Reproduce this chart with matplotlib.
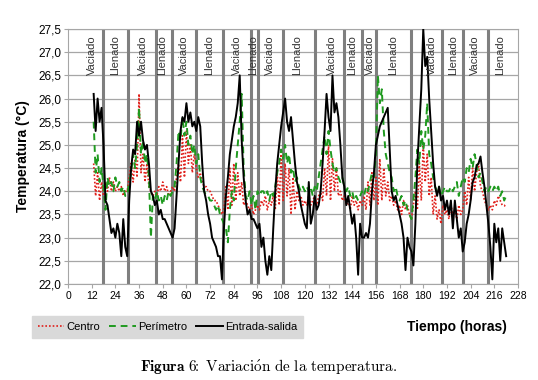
import numpy as np
import matplotlib
matplotlib.use('Agg')
import matplotlib.pyplot as plt

plt.rcParams['font.family'] = ['Liberation Sans', 'DejaVu Sans']
plt.rcParams['mathtext.fontset'] = 'cm'

# time axis (hours)
horas = list(range(13, 223))

# Entrada-salida (black solid)
entrada_salida = [
    26.1, 25.3, 26.0, 25.5, 25.8, 25.0, 23.8,                    # 13-19
    23.7, 23.4, 23.1, 23.2, 23.0, 23.3, 23.1, 22.6, 23.4, 22.8,  # 20-29
    22.6, 23.8, 24.5, 24.9, 24.8, 25.5, 25.2, 25.5, 25.1, 24.9,  # 30-39
    25.0, 24.6, 24.0, 23.9, 23.7, 23.8, 23.5, 23.6, 23.4, 23.4,  # 40-49
    23.3, 23.2, 23.1, 23.0, 23.2, 23.9, 24.6, 25.3, 25.6, 25.5,  # 50-59
    25.9, 25.5, 25.7, 25.4, 25.5, 25.3, 25.6, 25.4, 24.6, 24.0,  # 60-69
    23.8, 23.5, 23.3, 23.0, 22.9, 22.8, 22.6, 22.6, 22.1, 23.2,  # 70-79
    23.9, 24.3, 24.8, 25.1, 25.4, 25.6, 25.9, 26.5, 25.1, 24.3,  # 80-89
    23.8, 23.5, 23.6, 23.4, 23.4, 23.3, 23.2, 23.3, 22.8, 23.0,  # 90-99
    22.5, 22.2, 22.6, 22.3, 23.2, 24.0, 24.6, 25.0, 25.4, 25.7,  # 100-109
    26.0, 25.5, 25.3, 25.6, 25.1, 24.6, 24.2, 24.0, 23.7, 23.5,  # 110-119
    23.3, 23.2, 24.2, 23.3, 23.5, 23.9, 23.6, 23.7, 24.0, 24.6,  # 120-129
    25.3, 26.1, 25.6, 25.3, 26.5, 25.7, 25.9, 25.6, 25.0, 24.3,  # 130-139
    24.1, 23.7, 23.9, 23.6, 23.3, 23.5, 23.0, 22.2, 23.3, 23.0,  # 140-149
    23.0, 23.1, 23.0, 23.3, 24.0, 24.4, 25.0, 25.2, 25.4, 25.5,  # 150-159
    25.6, 25.7, 25.8, 24.9, 24.0, 23.8, 23.9, 23.7, 23.5, 23.3,  # 160-169
    23.0, 22.3, 23.0, 22.8, 22.7, 22.4, 23.3, 24.6, 25.4, 26.2,  # 170-179
    27.5, 26.7, 26.9, 26.0, 25.3, 24.6, 24.1, 23.9, 24.1, 23.8,  # 180-189
    23.9, 23.6, 23.8, 23.5, 23.8, 23.2, 23.8, 23.4, 23.0, 23.2,  # 190-199
    22.7, 22.9, 23.3, 23.5, 23.8, 24.2, 24.3, 24.55, 24.6, 24.75,  # 200-209
    24.4, 24.1, 23.7, 23.3, 22.8, 22.1, 23.3, 22.9, 23.2, 22.5,  # 210-219
    23.2, 22.9, 22.6,                                            # 220-222
]

# Perimetro (green dashed)
perimetro = [
    25.5, 24.4, 24.8, 24.2, 24.5, 24.1, 23.6,
    24.3, 24.1, 24.2, 24.0, 24.3, 24.1, 24.2, 24.0, 24.1, 23.9,
    23.9, 24.2, 24.4, 24.8, 24.5, 25.0, 25.8, 24.8, 25.1, 24.6,
    24.8, 24.3, 23.0, 23.9, 23.8, 24.0, 23.8, 23.9, 23.7, 23.9,
    23.8, 24.0, 23.9, 24.0, 24.1, 24.6, 25.3, 25.1, 25.6, 25.2,
    25.5, 25.0, 25.2, 24.8, 25.0, 24.6, 24.8, 24.3, 24.1, 24.0,
    23.9, 23.9, 23.8, 23.8, 23.7, 23.6, 23.7, 23.5, 23.4, 23.3,
    23.2, 22.9, 23.6, 24.0, 23.8, 24.5, 25.0, 25.5, 26.1, 24.5,
    23.9, 23.8, 24.0, 23.7, 23.9, 23.6, 24.0, 23.9, 24.0, 24.0,
    23.9, 24.0, 23.8, 24.0, 23.9, 24.1, 24.4, 24.6, 24.9, 24.7,
    25.0, 24.6, 24.8, 24.4, 24.5, 24.2, 24.3, 24.1, 24.0, 24.1,
    24.0, 24.1, 24.0, 24.1, 23.9, 24.1, 24.0, 24.3, 24.6, 24.9,
    25.2, 24.8, 25.3, 24.9, 24.6, 24.4, 24.5, 24.3, 24.2, 24.3,
    24.1, 24.0, 24.1, 23.9, 24.0, 23.8, 23.9, 23.8, 23.9, 24.0,
    23.9, 24.1, 24.0, 24.2, 24.4, 24.3, 24.8, 26.5, 25.9, 26.2,
    25.3, 24.8, 24.6, 24.4, 24.3, 24.0, 24.1, 23.9, 23.8, 23.9,
    23.7, 23.8, 23.6, 23.5, 23.4, 23.8, 24.3, 24.9, 24.6, 25.3,
    24.9, 25.2, 25.9, 24.8, 24.6, 24.3, 24.1, 24.0, 24.1, 23.9,
    24.0, 24.1, 24.0, 24.0, 24.1, 24.0, 24.1, 24.2, 23.9, 24.1,
    24.3, 24.2, 24.5, 24.4, 24.7, 24.5, 24.8, 24.6, 24.3, 24.4,
    24.2, 24.0, 24.1, 24.0, 24.1, 24.0, 24.1, 24.0, 24.1, 23.9,
    24.0, 23.8, 23.9,
]

# Centro (red dotted)
centro = [
    24.6, 23.9, 24.4, 23.8, 24.2, 23.9, 24.2,
    24.0, 24.3, 24.0, 24.2, 24.0, 24.1, 24.0, 24.1, 23.9, 24.0,
    24.0, 24.3, 24.6, 24.2, 24.7, 24.3, 26.1, 24.4, 24.8, 24.2,
    24.6, 24.1, 24.0, 23.9, 24.0, 23.9, 24.1, 24.0, 24.2, 24.0,
    24.1, 23.9, 24.0, 24.1, 24.0, 24.3, 24.6, 24.2, 25.2, 24.3,
    25.3, 24.6, 25.0, 24.4, 24.8, 24.5, 24.3, 24.4, 24.2, 24.1,
    24.1, 24.0, 24.0, 23.9, 23.8, 23.8, 23.7, 23.6, 23.5, 23.6,
    24.1, 23.6, 24.5, 23.7, 24.6, 23.8, 24.4, 23.9, 24.2, 23.7,
    23.8, 23.7, 23.6, 23.7, 23.5, 23.6, 23.7, 23.6, 23.8, 23.7,
    23.9, 23.6, 23.8, 23.7, 23.9, 23.6, 24.4, 23.7, 24.8, 23.8,
    24.6, 23.9, 24.5, 23.5, 24.3, 23.6, 24.0, 23.8, 23.9, 23.7,
    23.8, 23.7, 23.9, 23.7, 23.8, 23.9, 23.7, 23.9, 24.0, 23.8,
    24.5, 23.9, 25.0, 23.8, 24.7, 24.0, 24.5, 23.9, 24.0, 23.8,
    23.9, 23.7, 23.8, 23.6, 23.9, 23.7, 23.8, 23.6, 23.8, 23.7,
    23.9, 23.6, 24.2, 23.7, 24.4, 23.8, 24.3, 23.7, 24.7, 23.8,
    24.5, 23.9, 24.2, 23.8, 23.9, 23.7, 23.8, 23.6, 23.7, 23.5,
    23.8, 23.6, 23.7, 23.5, 23.4, 23.7, 24.0, 23.6, 24.6, 23.8,
    25.0, 24.2, 24.8, 23.9, 24.3, 23.5, 23.9, 23.4, 23.6, 23.3,
    23.7, 23.5, 23.6, 23.4, 23.7, 23.5, 23.6, 23.4, 23.7, 23.5,
    23.6, 24.0, 23.7, 24.3, 23.8, 24.5, 24.0, 24.4, 24.6, 24.1,
    24.0, 23.8, 23.7, 23.6, 23.7, 23.6, 23.8, 23.7, 23.9, 23.8,
    23.7, 23.7, 23.65,
]

# vertical dividers between emptying / filling phases (hours)
cortes = [17.8, 30.5, 44.7, 52.8, 65, 78.7, 92.9, 96.4, 109, 124.9,
          139.6, 149.2, 156.3, 173.6, 189.3, 200, 212.7]

fase_pos = [12.2, 23.9, 38, 47.7, 58.9, 71.6, 85.8, 94, 102.5, 116,
            133.5, 144, 152.8, 164.5, 184.3, 195, 206, 219]
fase_txt = ['Vaciado', 'Llenado'] * 9

fig = plt.figure(figsize=(5.38, 3.80), dpi=100)
ax = fig.add_axes([68/538, 1 - 284/380, 450/538, 255/380])

for c in cortes:
    ax.axvline(c, color='#7f7f7f', lw=2.2, zorder=2)

ax.plot(horas, centro, color='#e0201b', ls=(0, (1, 1.2)), lw=1.2, label='Centro', zorder=3)
ax.plot(horas, perimetro, color='#1f9a1f', ls=(0, (3.5, 2.5)), lw=1.4, label='Perímetro', zorder=4)
ax.plot(horas, entrada_salida, color='black', lw=1.4, label='Entrada-salida', zorder=5)

for p, t in zip(fase_pos, fase_txt):
    ax.text(p, 27.36, t, rotation=90, ha='center', va='top', fontsize=8, color='#333333', zorder=6)

ax.set_xlim(0, 228)
ax.set_ylim(22.0, 27.5)
ax.set_xticks(range(0, 229, 12))
ax.set_xticklabels([str(v) for v in range(0, 229, 12)], fontsize=7.5)
yt = np.arange(22.0, 27.51, 0.5)
ax.set_yticks(yt)
ax.set_yticklabels([f'{v:.1f}'.replace('.', ',') for v in yt], fontsize=8.5)
ax.grid(axis='y', color='#a6a6a6', lw=0.9)
ax.set_axisbelow(True)
for s in ax.spines.values():
    s.set_color('#a6a6a6')
ax.tick_params(length=3, color='#a6a6a6', pad=2)

ax.set_ylabel('Temperatura (°C)', fontsize=10, fontweight='bold', labelpad=6)

leg = fig.legend(loc='center', bbox_to_anchor=(167.5/538, 1 - 327/380), ncol=3,
                 fontsize=8, frameon=True, fancybox=False, handlelength=2.4,
                 handletextpad=0.2, columnspacing=0.8, borderpad=0.55)
leg.get_frame().set_facecolor('#d9d9d9')
leg.get_frame().set_edgecolor('#d9d9d9')
leg.get_frame().set_alpha(1)

fig.text(457/538, 1 - 327/380, 'Tiempo (horas)', ha='center', va='center', fontsize=10, fontweight='bold')
fig.text(269/538, 1 - 367/380,
         r'$\mathbf{Figura\ 6\!\!:}\ \mathrm{Variaci\acute{o}n\ de\ la\ temperatura.}$',
         ha='center', va='center', fontsize=11)

fig.savefig('out.png', dpi=100)
